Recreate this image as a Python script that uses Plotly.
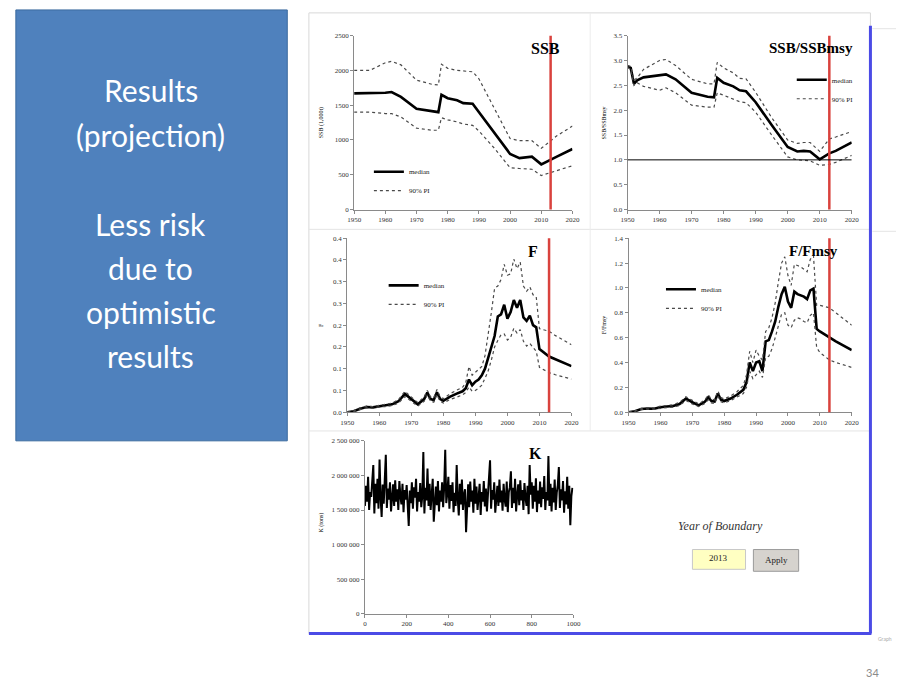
import plotly.graph_objects as go

W, H = 904, 684

# ------------------------------------------------------------------ data
boundary_year = 2013
msy_ref = 1.0

ssb_years = [1950, 1955, 1960, 1962, 1965, 1970, 1975, 1977, 1978, 1980, 1983, 1985, 1988,
             1990, 1995, 2000, 2003, 2005, 2007, 2010, 2013, 2015, 2020]
ssb_median = [1670, 1670, 1680, 1690, 1620, 1450, 1410, 1400, 1650, 1600, 1570, 1530, 1520,
              1400, 1090, 800, 740, 745, 760, 650, 720, 760, 870]
ssb_upper = [2000, 2000, 2110, 2130, 2080, 1860, 1800, 1790, 2090, 2030, 2000, 1990, 1980,
             1880, 1460, 1020, 990, 990, 990, 880, 980, 1060, 1200]
ssb_lower = [1400, 1400, 1380, 1380, 1330, 1170, 1140, 1140, 1320, 1290, 1260, 1230, 1210,
             1130, 880, 600, 590, 590, 580, 490, 530, 560, 630]

ratio_years = [1950, 1951, 1952, 1953, 1955, 1960, 1962, 1965, 1970, 1975, 1977, 1978, 1980,
               1983, 1985, 1987, 1990, 1995, 2000, 2003, 2005, 2007, 2010, 2013, 2015, 2020]
ratio_median = [2.88, 2.85, 2.53, 2.60, 2.66, 2.70, 2.72, 2.62, 2.35, 2.27, 2.26, 2.65, 2.55,
                2.48, 2.40, 2.38, 2.16, 1.70, 1.26, 1.17, 1.18, 1.17, 1.01, 1.13, 1.18, 1.35]
ratio_upper = [2.90, 2.88, 2.60, 2.65, 2.82, 3.00, 3.02, 2.90, 2.62, 2.53, 2.53, 2.96, 2.85,
               2.75, 2.64, 2.63, 2.36, 1.85, 1.40, 1.33, 1.35, 1.35, 1.17, 1.42, 1.46, 1.57]
ratio_lower = [2.86, 2.82, 2.50, 2.55, 2.48, 2.40, 2.45, 2.35, 2.10, 2.06, 2.06, 2.35, 2.30,
               2.22, 2.17, 2.15, 1.96, 1.50, 1.06, 1.00, 0.99, 0.98, 0.89, 0.91, 0.95, 1.09]

f_years = [1950, 1952, 1954, 1956, 1958, 1960, 1962, 1964, 1966, 1968, 1970, 1972, 1974, 1975,
           1976, 1977, 1978, 1979, 1980, 1982, 1984, 1986, 1987, 1988, 1989, 1990, 1991, 1992,
           1993, 1994, 1995, 1996, 1997, 1998, 1999, 2000, 2001, 2002, 2003, 2004, 2005, 2006,
           2007, 2008, 2009, 2010, 2013, 2015, 2020]
f_median = [0.000, 0.002, 0.008, 0.012, 0.011, 0.014, 0.016, 0.018, 0.025, 0.042, 0.030, 0.018,
            0.030, 0.045, 0.030, 0.028, 0.046, 0.030, 0.026, 0.035, 0.042, 0.048, 0.055, 0.075,
            0.062, 0.070, 0.075, 0.085, 0.100, 0.125, 0.150, 0.175, 0.220, 0.225, 0.247, 0.215,
            0.230, 0.258, 0.240, 0.258, 0.218, 0.210, 0.222, 0.200, 0.195, 0.145, 0.128, 0.122,
            0.106]
f_upper = [0.000, 0.003, 0.010, 0.014, 0.013, 0.016, 0.019, 0.021, 0.029, 0.048, 0.035, 0.022,
           0.035, 0.050, 0.035, 0.033, 0.052, 0.036, 0.031, 0.042, 0.050, 0.057, 0.068, 0.105,
           0.085, 0.092, 0.098, 0.105, 0.130, 0.175, 0.230, 0.285, 0.290, 0.305, 0.340, 0.315,
           0.318, 0.352, 0.330, 0.345, 0.290, 0.278, 0.288, 0.270, 0.265, 0.192, 0.186, 0.176,
           0.155]
f_lower = [0.000, 0.001, 0.006, 0.010, 0.009, 0.012, 0.013, 0.015, 0.021, 0.036, 0.025, 0.014,
           0.025, 0.040, 0.025, 0.023, 0.040, 0.025, 0.021, 0.029, 0.034, 0.040, 0.045, 0.058,
           0.048, 0.050, 0.055, 0.062, 0.078, 0.095, 0.120, 0.150, 0.165, 0.178, 0.180, 0.166,
           0.172, 0.193, 0.182, 0.190, 0.163, 0.152, 0.158, 0.148, 0.140, 0.103, 0.091, 0.086,
           0.076]

fr_years = f_years
fr_median = [0.000, 0.008, 0.025, 0.030, 0.028, 0.040, 0.045, 0.050, 0.065, 0.110, 0.080, 0.055,
             0.085, 0.120, 0.090, 0.085, 0.150, 0.100, 0.090, 0.110, 0.140, 0.180, 0.240, 0.400,
             0.330, 0.400, 0.410, 0.330, 0.570, 0.580, 0.650, 0.730, 0.850, 0.950, 1.010, 0.890,
             0.840, 0.970, 0.950, 0.940, 0.930, 0.910, 0.980, 0.995, 0.670, 0.650, 0.600, 0.570,
             0.500]
fr_upper = [0.000, 0.010, 0.030, 0.036, 0.034, 0.048, 0.054, 0.060, 0.078, 0.125, 0.095, 0.066,
            0.100, 0.140, 0.105, 0.100, 0.170, 0.118, 0.106, 0.130, 0.165, 0.215, 0.300, 0.490,
            0.400, 0.500, 0.450, 0.420, 0.650, 0.680, 0.760, 0.880, 1.050, 1.200, 1.250, 1.100,
            1.020, 1.190, 1.180, 1.170, 1.150, 1.130, 1.230, 1.260, 0.860, 0.860, 0.840, 0.800,
            0.700]
fr_lower = [0.000, 0.006, 0.020, 0.025, 0.023, 0.033, 0.037, 0.041, 0.053, 0.095, 0.066, 0.045,
            0.070, 0.100, 0.075, 0.070, 0.130, 0.083, 0.075, 0.092, 0.118, 0.150, 0.200, 0.330,
            0.270, 0.300, 0.330, 0.280, 0.440, 0.450, 0.510, 0.600, 0.700, 0.790, 0.800, 0.700,
            0.680, 0.740, 0.760, 0.750, 0.730, 0.720, 0.780, 0.800, 0.520, 0.480, 0.420, 0.400,
            0.360]

# carrying capacity K per draw (thousand t), read every 5th draw
k_draw = list(range(0, 1000, 5))
k_values = [
    1560, 1850, 1620, 1980, 1500, 1760, 1690, 1920, 2150, 1450, 1880, 1600, 1950, 1520, 2230, 1680, 1400, 1870, 1590, 1940,
    2300, 1530, 1810, 1650, 1900, 1480, 1750, 1870, 1560, 1930, 1620, 1800, 1500, 1920, 1700, 1580, 1880, 1470, 1790, 1650,
    1860, 1420, 1270, 1780, 1600, 1900, 1520, 1830, 1680, 1950, 1480, 1760, 1620, 1890, 1540, 1700, 2340, 1450, 1820, 1640,
    2100, 1560, 1880, 1500, 1760, 1950, 1330, 1690, 1840, 1570, 1920, 1480, 1780, 1620, 1900, 1540, 1830, 2370, 1600, 1740,
    1980, 1520, 1860, 1630, 1900, 1470, 1750, 1560, 2150, 1660, 1420, 1880, 1580, 1940, 1500, 1720, 1800, 1180, 1650, 1870,
    1540, 1910, 1620, 1780, 1460, 1950, 1590, 1840, 1500, 1700, 1880, 1430, 1760, 1620, 1920, 1550, 1810, 1480, 1700, 1860,
    2220, 1520, 1790, 1650, 1900, 1460, 1730, 1850, 1560, 1940, 1610, 1780, 1490, 1880, 1650, 1550, 1910, 1470, 1760, 1830,
    2060, 1530, 1820, 1600, 1950, 1480, 1710, 1870, 1570, 1930, 1640, 1790, 1500, 1890, 1680, 1560, 1850, 1440, 2150, 1720,
    1900, 1520, 1850, 1620, 1960, 1470, 1780, 1590, 1910, 1540, 1830, 1660, 1990, 1500, 1760, 1640, 2280, 1560, 1880, 1480,
    1820, 1610, 1940, 1500, 1750, 1860, 2120, 1530, 1800, 1640, 1920, 1460, 1770, 1580, 1980, 1520, 1850, 1280, 1700, 1820,
]

year_ticks = [1950, 1960, 1970, 1980, 1990, 2000, 2010, 2020]
ssb_ticks = [0, 500, 1000, 1500, 2000, 2500]
ratio_ticks = [0, 0.5, 1.0, 1.5, 2.0, 2.5, 3.0, 3.5]
f_tickvals = [0, 0.05, 0.1, 0.15, 0.2, 0.25, 0.3, 0.35, 0.4]
f_ticktext = ["0.0", "0.1", "0.1", "0.2", "0.2", "0.3", "0.3", "0.4", "0.4"]
fr_ticks = [0, 0.2, 0.4, 0.6, 0.8, 1.0, 1.2, 1.4]
draw_ticks = [0, 200, 400, 600, 800, 1000]
k_tickvals = [0, 500, 1000, 1500, 2000, 2500]
k_ticktext = ["0", "500 000", "1 000 000", "1 500 000", "2 000 000", "2 500 000"]

# ------------------------------------------------------------------ helpers
def px(x):
    return x / W


def py(y):
    return 1 - y / H


SERIF = "Liberation Serif"
AX = "#8a8a8a"
tickfont = dict(family=SERIF, size=7, color="#333")


def xaxis(x0, x1, rng, vals, anchor, text=None):
    d = dict(domain=[px(x0), px(x1)], range=rng, anchor=anchor, showline=True, linecolor=AX,
             linewidth=1, ticks="outside", ticklen=3, tickcolor=AX, tickvals=vals,
             tickfont=tickfont, showgrid=False, zeroline=False, fixedrange=True)
    if text is not None:
        d["ticktext"] = text
    return d


def yaxis(y0, y1, rng, vals, anchor, text=None, fmt=None):
    d = dict(domain=[py(y1), py(y0)], range=rng, anchor=anchor, showline=True, linecolor=AX,
             linewidth=1, ticks="outside", ticklen=3, tickcolor=AX, tickvals=vals,
             tickfont=tickfont, showgrid=False, zeroline=False, fixedrange=True)
    if text is not None:
        d["ticktext"] = text
    if fmt:
        d["tickformat"] = fmt
    return d


fig = go.Figure()

PI_LINE = dict(color="#4a4a4a", width=1.2, dash="dot")


def add_series(xs, med, up, lo, xa, ya, leg):
    fig.add_trace(go.Scatter(x=xs, y=med, mode="lines", name="median",
                             line=dict(color="black", width=2.6), xaxis=xa, yaxis=ya,
                             legend=leg, legendgroup=leg + "m"))
    fig.add_trace(go.Scatter(x=xs, y=up, mode="lines", name="90% PI",
                             line=PI_LINE, xaxis=xa, yaxis=ya,
                             legend=leg, legendgroup=leg + "p"))
    fig.add_trace(go.Scatter(x=xs, y=lo, mode="lines", name="90% PI", showlegend=False,
                             line=PI_LINE, xaxis=xa, yaxis=ya,
                             legend=leg, legendgroup=leg + "p"))


add_series(ssb_years, ssb_median, ssb_upper, ssb_lower, "x", "y", "legend")
add_series(ratio_years, ratio_median, ratio_upper, ratio_lower, "x2", "y2", "legend2")
add_series(f_years, f_median, f_upper, f_lower, "x3", "y3", "legend3")
add_series(fr_years, fr_median, fr_upper, fr_lower, "x4", "y4", "legend4")

fig.add_trace(go.Scatter(x=k_draw, y=k_values, mode="lines", showlegend=False,
                         line=dict(color="black", width=2.0), xaxis="x5", yaxis="y5"))

legfont = dict(family=SERIF, size=7, color="#222")


def legend(x, y):
    return dict(x=px(x), y=py(y), xanchor="left", yanchor="top", font=legfont,
                bgcolor="rgba(0,0,0,0)", itemwidth=30, tracegroupgap=0,
                itemclick=False, itemdoubleclick=False)


shapes = []
annotations = []

# slide background pieces
shapes.append(dict(type="rect", xref="paper", yref="paper", x0=px(9), x1=px(285), y0=py(442),
                   y1=py(6), fillcolor="#4F81BD", line=dict(color="#3B6A9E", width=1),
                   layer="below"))
shapes.append(dict(type="rect", xref="paper", yref="paper", x0=px(307), x1=px(878), y0=py(637),
                   y1=py(9), fillcolor="rgba(0,0,0,0)", line=dict(color="#D8D8D8", width=1),
                   layer="below"))
for yy in (228, 432):
    shapes.append(dict(type="line", xref="paper", yref="paper", x0=px(307), x1=px(878),
                       y0=py(yy), y1=py(yy), line=dict(color="#E4E4E4", width=1), layer="below"))
shapes.append(dict(type="line", xref="paper", yref="paper", x0=px(593), x1=px(593),
                   y0=py(9), y1=py(432), line=dict(color="#ECECEC", width=1), layer="below"))
for yy in (25, 230):
    shapes.append(dict(type="line", xref="paper", yref="paper", x0=px(880), x1=px(904),
                       y0=py(yy), y1=py(yy), line=dict(color="#E4E4E4", width=1), layer="below"))
# blue frame
shapes.append(dict(type="line", xref="paper", yref="paper", x0=px(878), x1=px(878), y0=py(637),
                   y1=py(22), line=dict(color="#4B4BE6", width=3)))
shapes.append(dict(type="line", xref="paper", yref="paper", x0=px(307), x1=px(879), y0=py(637),
                   y1=py(637), line=dict(color="#4B4BE6", width=3)))

# boundary year lines
for xa in ("x", "x2", "x3", "x4"):
    shapes.append(dict(type="line", xref=xa, yref=xa.replace("x", "y") + " domain",
                       x0=boundary_year, x1=boundary_year, y0=0, y1=1,
                       line=dict(color="#D9423D", width=2.5)))
# Bmsy reference
shapes.append(dict(type="line", xref="x2", yref="y2", x0=1950, x1=2020, y0=msy_ref, y1=msy_ref,
                   line=dict(color="black", width=1)))

# boundary widget
shapes.append(dict(type="rect", xref="paper", yref="paper", x0=px(697), x1=px(751), y0=py(572),
                   y1=py(552), fillcolor="#FFFFC2", line=dict(color="#C8C8C8", width=1)))
shapes.append(dict(type="rect", xref="paper", yref="paper", x0=px(759), x1=px(805), y0=py(574),
                   y1=py(552), fillcolor="#D6D3CE", line=dict(color="#9A9A9A", width=1)))


def ann(x, y, text, size, color="black", family=SERIF, angle=0, xanchor="center"):
    annotations.append(dict(xref="paper", yref="paper", x=px(x), y=py(y), text=text,
                            showarrow=False, xanchor=xanchor, yanchor="middle", textangle=angle,
                            font=dict(family=family, size=size, color=color)))


# left box text
for txt, yy in [("Results", 87), ("(projection)", 133), ("Less risk", 223), ("due to", 267),
                ("optimistic", 312), ("results", 356)]:
    ann(146, yy, txt, 30, color="white", family="Lato")

# panel titles
ann(548, 45, "<b>SSB</b>", 16)
ann(818, 45, "<b>SSB/SSBmsy</b>", 15)
ann(535, 250, "<b>F</b>", 16)
ann(820, 250, "<b>F/Fmsy</b>", 15)
ann(537, 455, "<b>K</b>", 16)

# y-axis titles
ann(320, 120, "SSB (1,000t)", 6, angle=-90)
ann(607, 120, "SSB/SSBmsy", 6, angle=-90)
ann(320, 325, "F", 6, angle=-90)
ann(607, 325, "F/Fmsy", 6, angle=-90)
ann(320, 525, "K (tons)", 6, angle=-90)

# widget text
ann(726, 528, "<i>Year of Boundary</i>", 12, color="#333")
ann(724, 561, "2013", 9, color="#222")
ann(782, 563, "Apply", 9, color="#222")
ann(893, 643, "Graph", 5, color="#AAAAAA", family="Lato")
ann(880, 676, "34", 11, color="#8A8A8A", family="Lato")

fig.update_layout(
    width=W, height=H, margin=dict(l=0, r=0, t=0, b=0),
    paper_bgcolor="white", plot_bgcolor="rgba(0,0,0,0)",
    xaxis=xaxis(353, 575, [1950, 2020], year_ticks, "y"),
    yaxis=yaxis(32, 208, [0, 2500], ssb_ticks, "x"),
    xaxis2=xaxis(631, 859, [1950, 2020], year_ticks, "y2"),
    yaxis2=yaxis(32, 208, [0, 3.5], ratio_ticks, "x2", fmt=".1f"),
    xaxis3=xaxis(346, 574, [1950, 2020], year_ticks, "y3"),
    yaxis3=yaxis(237, 413, [0, 0.4], f_tickvals, "x3", text=f_ticktext),
    xaxis4=xaxis(632, 859, [1950, 2020], year_ticks, "y4"),
    yaxis4=yaxis(237, 413, [0, 1.4], fr_ticks, "x4", fmt=".1f"),
    xaxis5=xaxis(364, 576, [0, 1000], draw_ticks, "y5"),
    yaxis5=yaxis(442, 617, [0, 2500], k_tickvals, "x5", text=k_ticktext),
    legend=legend(368, 155),
    legend2=legend(798, 62),
    legend3=legend(383, 270),
    legend4=legend(665, 274),
    shapes=shapes,
    annotations=annotations,
)

fig.write_html("out.html")
